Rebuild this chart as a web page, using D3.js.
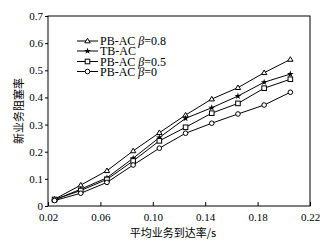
<!DOCTYPE html>
<html>
<head>
<meta charset="utf-8">
<script src="https://cdn.jsdelivr.net/npm/d3@7/dist/d3.min.js"></script>
<style>
  html, body { margin: 0; padding: 0; background: #fff; }
  svg { display: block; }
</style>
</head>
<body>
<svg id="chart"></svg>
<script>
// Data
const arrival = [0.025, 0.045, 0.065, 0.085, 0.105, 0.125, 0.145, 0.165, 0.185, 0.205];
const pbac08 = [0.025, 0.077, 0.130, 0.203, 0.270, 0.335, 0.394, 0.436, 0.491, 0.540];
const tbac   = [0.022, 0.062, 0.104, 0.176, 0.252, 0.323, 0.362, 0.405, 0.456, 0.486];
const pbac05 = [0.024, 0.057, 0.098, 0.166, 0.240, 0.290, 0.342, 0.378, 0.434, 0.467];
const pbac0  = [0.020, 0.047, 0.087, 0.151, 0.213, 0.268, 0.305, 0.339, 0.372, 0.419];
const xTicks = [0.02, 0.06, 0.10, 0.14, 0.18, 0.22];
const yTicks = [0, 0.1, 0.2, 0.3, 0.4, 0.5, 0.6, 0.7];

const series = [
  { name: 'PB-AC ', beta: '0.8', values: pbac08, marker: 'triangle' },
  { name: 'TB-AC', beta: null, values: tbac, marker: 'star' },
  { name: 'PB-AC ', beta: '0.5', values: pbac05, marker: 'square' },
  { name: 'PB-AC ', beta: '0', values: pbac0, marker: 'circle' }
];

const width = 334, height = 245;
const margin = { top: 16, right: 24, bottom: 39, left: 48 };
const innerWidth = width - margin.left - margin.right;
const innerHeight = height - margin.top - margin.bottom;
const serif = '"Liberation Serif", "DejaVu Serif", serif';
const cjk = '"Noto Sans CJK SC", sans-serif';

const svg = d3.select('#chart')
  .attr('width', width)
  .attr('height', height)
  .attr('viewBox', `0 0 ${width} ${height}`);

const x = d3.scaleLinear().domain([0.02, 0.22]).range([0, innerWidth]);
const y = d3.scaleLinear().domain([0, 0.7]).range([innerHeight, 0]);

const g = svg.append('g').attr('transform', `translate(${margin.left}, ${margin.top})`);

// Frame
g.append('rect')
  .attr('x', 0).attr('y', 0)
  .attr('width', innerWidth).attr('height', innerHeight)
  .attr('fill', 'none')
  .attr('stroke', '#000')
  .attr('stroke-width', 1);

// X axis (ticks point inward)
const xAxis = g.append('g')
  .attr('transform', `translate(0, ${innerHeight})`)
  .call(d3.axisBottom(x).tickValues(xTicks).tickSize(-4).tickPadding(7)
    .tickFormat(d => d.toFixed(2)));
xAxis.select('.domain').remove();
xAxis.selectAll('line').attr('stroke', '#000');
xAxis.selectAll('text')
  .attr('font-family', serif).attr('font-size', '11px').attr('fill', '#000');

// Y axis (ticks point outward)
const yAxis = g.append('g')
  .call(d3.axisLeft(y).tickValues(yTicks).tickSize(3).tickPadding(2)
    .tickFormat(d => d === 0 ? '0' : d.toFixed(1)));
yAxis.select('.domain').remove();
yAxis.selectAll('line').attr('stroke', '#000');
yAxis.selectAll('text')
  .attr('font-family', serif).attr('font-size', '11px').attr('fill', '#000');

// Axis titles
svg.append('text')
  .attr('x', 173)
  .attr('y', 237)
  .attr('text-anchor', 'middle')
  .attr('font-family', cjk)
  .attr('font-size', '11px')
  .attr('fill', '#000')
  .text('平均业务到达率/s');

svg.append('text')
  .attr('transform', `translate(23, ${margin.top + innerHeight / 2}) rotate(-90)`)
  .attr('text-anchor', 'middle')
  .attr('font-family', cjk)
  .attr('font-size', '11px')
  .attr('fill', '#000')
  .text('新业务阻塞率');

function drawMarker(sel, type, cx, cy) {
  const s = 2.3;
  if (type === 'triangle') {
    sel.append('path')
      .attr('d', `M${cx},${cy - s - 0.4}L${cx + s + 0.4},${cy + s * 0.8}L${cx - s - 0.4},${cy + s * 0.8}Z`)
      .attr('fill', '#fff').attr('stroke', '#000').attr('stroke-width', 1);
  } else if (type === 'square') {
    sel.append('rect')
      .attr('x', cx - s).attr('y', cy - s)
      .attr('width', 2 * s).attr('height', 2 * s)
      .attr('fill', '#fff').attr('stroke', '#000').attr('stroke-width', 1);
  } else if (type === 'circle') {
    sel.append('circle')
      .attr('cx', cx).attr('cy', cy).attr('r', s)
      .attr('fill', '#fff').attr('stroke', '#000').attr('stroke-width', 1);
  } else {
    sel.append('path')
      .attr('d', d3.symbol(d3.symbolStar, 14)())
      .attr('transform', `translate(${cx},${cy})`)
      .attr('fill', '#000');
  }
}

const line = d3.line()
  .x((d, i) => x(arrival[i]))
  .y(d => y(d));

series.forEach(s => {
  g.append('path')
    .datum(s.values)
    .attr('d', line)
    .attr('fill', 'none')
    .attr('stroke', '#000')
    .attr('stroke-width', 1);
  const mg = g.append('g');
  s.values.forEach((v, i) => drawMarker(mg, s.marker, x(arrival[i]), y(v)));
});

// Legend
const legend = svg.append('g');
const legendRows = [41, 51, 61.5, 71.5];
series.forEach((s, i) => {
  const ly = legendRows[i];
  legend.append('line')
    .attr('x1', 77).attr('x2', 98)
    .attr('y1', ly).attr('y2', ly)
    .attr('stroke', '#000').attr('stroke-width', 1);
  drawMarker(legend, s.marker, 87.5, ly);
  const t = legend.append('text')
    .attr('x', 100).attr('y', ly + 4)
    .attr('font-family', serif).attr('font-size', '12px').attr('fill', '#000');
  t.append('tspan').text(s.name);
  if (s.beta !== null) {
    t.append('tspan').attr('font-style', 'italic').text('β');
    t.append('tspan').text('=' + s.beta);
  }
});
</script>
</body>
</html>
